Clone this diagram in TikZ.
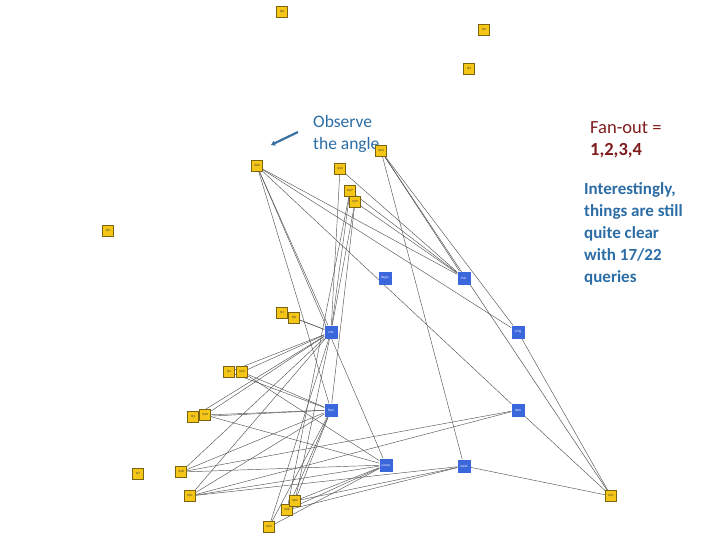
\documentclass[tikz,border=0pt]{standalone}
\usepackage{fontspec}
\setmainfont{Carlito}
\usetikzlibrary{arrows.meta}
\definecolor{qfill}{HTML}{F5C518}
\definecolor{qdraw}{HTML}{7A6410}
\definecolor{tfill}{HTML}{3B67DC}
\definecolor{notecol}{HTML}{2C6DA6}
\definecolor{fancol}{HTML}{7E1C1C}
\definecolor{edgecol}{HTML}{555555}
\tikzset{
  qbox/.style={draw=qdraw, line width=0.6pt, fill=qfill, minimum width=11pt, minimum height=11pt, inner sep=0pt, font=\fontsize{3.2}{3.5}\selectfont, text=black!80},
  tbox/.style={fill=tfill, minimum width=13pt, minimum height=13pt, inner sep=0pt, font=\fontsize{3.4}{3.6}\selectfont, text=white},
  edge/.style={draw=edgecol, line width=0.45pt},
  note/.style={font=\fontsize{17.5}{22}\selectfont, align=left, anchor=north west, inner sep=0pt}
}
\begin{document}
\begin{tikzpicture}[x=1pt, y=-1pt]
\useasboundingbox (0,0) rectangle (720,540);
% table nodes
\node[tbox] (region) at (385,278) {Regin};
\node[tbox] (part) at (464,278) {Pair};
\node[tbox] (nation) at (331,332) {rcfa};
\node[tbox] (lineitem) at (518,332) {t13g};
\node[tbox] (orders) at (331,410) {Sker};
\node[tbox] (bahn) at (518,410) {Italn};
\node[tbox] (store) at (386,465) {ustore};
\node[tbox] (week) at (464,466) {week};
% query coordinates
\coordinate (c6) at (282,12);
\coordinate (c5) at (484,30);
\coordinate (c2) at (469,69);
\coordinate (c13) at (381,151);
\coordinate (c20) at (257,166);
\coordinate (c14) at (340,169);
\coordinate (c17) at (350,191);
\coordinate (c19) at (355,202);
\coordinate (c9) at (108,231);
\coordinate (c1) at (282,313);
\coordinate (c8) at (294,318);
\coordinate (c4) at (229,372);
\coordinate (c12) at (242,372);
\coordinate (c3) at (193,417);
\coordinate (c10) at (205,415);
\coordinate (c7) at (138,474);
\coordinate (c18) at (181,472);
\coordinate (c21) at (190,496);
\coordinate (c22) at (295,501);
\coordinate (c16) at (287,510);
\coordinate (c15) at (269,527);
\coordinate (c11) at (611,496);
% edges
\foreach \a/\b in {
  c20/nation, c20/orders, c20/store, c20/part, c20/lineitem, c20/bahn,
  c14/nation, c14/part,
  c17/nation, c17/part, c17/c16,
  c19/nation, c19/part, c19/orders,
  c13/part, c13/lineitem, c13/week, c13/c11,
  lineitem/c11, bahn/c11, week/c11,
  c1/nation, c8/nation,
  c4/nation, c4/orders,
  c12/nation, c12/orders, c12/store,
  c3/nation, c3/orders,
  c10/nation, c10/orders, c10/store,
  c18/nation, c18/orders, c18/store, c18/bahn,
  c21/nation, c21/orders, c21/store, c21/bahn, c21/week,
  c22/orders, c22/store, c22/week, c22/nation,
  c16/orders, c16/store, c16/week,
  c15/nation, c15/orders, c15/store}
  \draw[edge] (\a) -- (\b);
% redraw table nodes on top
\node[tbox] at (region) {Regin};
\node[tbox] at (part) {Pair};
\node[tbox] at (nation) {rcfa};
\node[tbox] at (lineitem) {t13g};
\node[tbox] at (orders) {Sker};
\node[tbox] at (bahn) {Italn};
\node[tbox] at (store) {ustore};
\node[tbox] at (week) {week};
% query nodes
\node[qbox] (q6) at (c6) {Q6};
\node[qbox] (q5) at (c5) {Q5};
\node[qbox] (q2) at (c2) {Q2};
\node[qbox] (q20) at (c20) {Q20};
\node[qbox] (q14) at (c14) {Q14};
\node[qbox] (q17) at (c17) {Q17};
\node[qbox] (q19) at (c19) {Q19};
\node[qbox] (q9) at (c9) {Q9};
\node[qbox] (q1) at (c1) {Q1};
\node[qbox] (q8) at (c8) {Q8};
\node[qbox] (q4) at (c4) {Q4};
\node[qbox] (q12) at (c12) {Q12};
\node[qbox] (q3) at (c3) {Q3};
\node[qbox] (q10) at (c10) {Q10};
\node[qbox] (q7) at (c7) {Q7};
\node[qbox] (q18) at (c18) {Q18};
\node[qbox] (q21) at (c21) {Q21};
\node[qbox] (q15) at (c15) {Q15};
\node[qbox] (q16) at (c16) {Q16};
\node[qbox] (q22) at (c22) {Q22};
\node[qbox] (q11) at (c11) {Q11};
% annotations
\node[note, text=notecol] (obs) at (313,115) {Observe\\the angle};
\node[qbox] (q13) at (c13) {Q13};
\coordinate (arrS) at (298,132);
\coordinate (arrE) at (271,145);
\draw[draw=notecol!85!gray, line width=2.2pt, -{Triangle[length=4pt,width=5pt]}] (arrS) -- (arrE);
\node[note, text=fancol, font=\fontsize{18.5}{22}\selectfont] (fan) at (590,121) {Fan-out =\\\textbf{1,2,3,4}};
\node[note, text=notecol, font=\bfseries\fontsize{17}{22}\selectfont] (int) at (584,182) {Interestingly,\\things are still\\quite clear\\with 17/22\\queries};
\end{tikzpicture}
\end{document}
